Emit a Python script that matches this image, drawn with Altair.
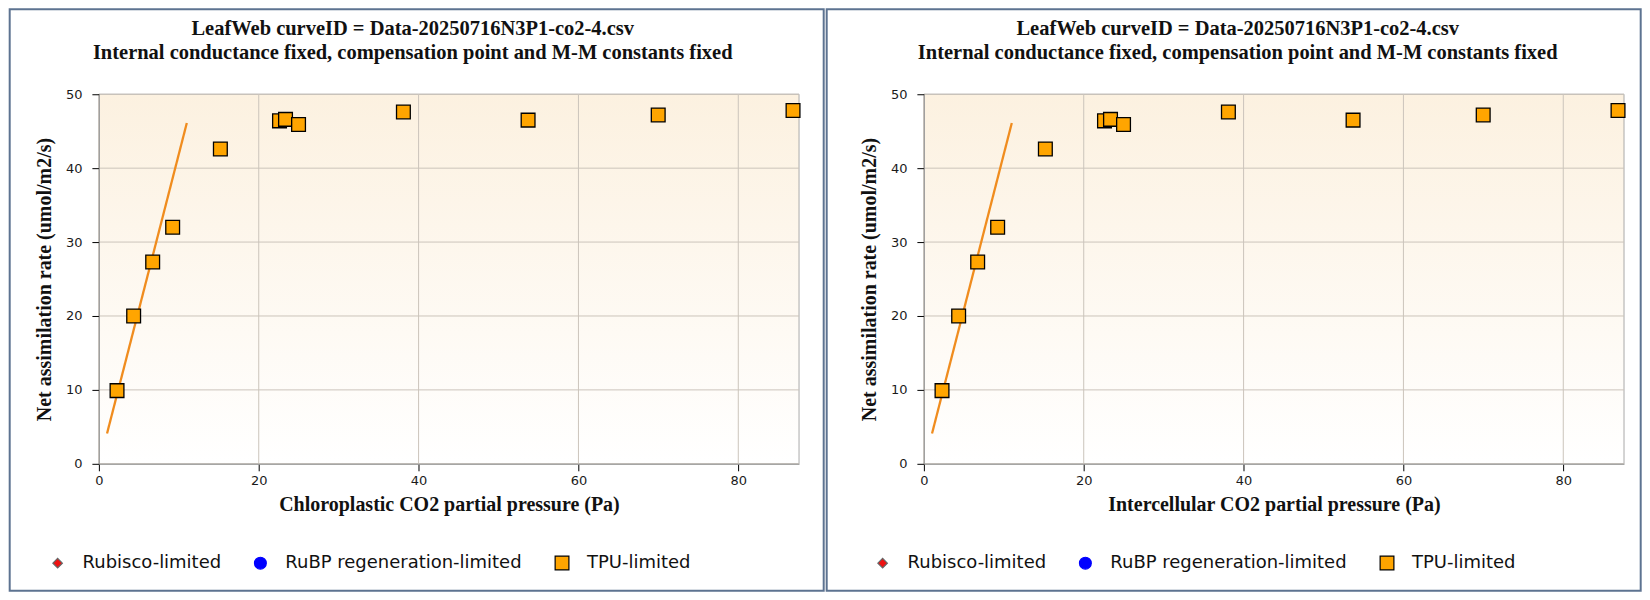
import altair as alt
import pandas as pd

# ---- data ----
ci_values = [2.27, 4.35, 6.73, 9.23, 15.2, 22.6, 23.35, 24.98, 38.1, 53.7, 69.98, 86.85]
anet_values = [9.9, 20.0, 27.3, 32.0, 42.6, 46.4, 46.6, 45.9, 47.6, 46.5, 47.2, 47.8]
point_limits = ["TPU-limited"] * len(ci_values)

fit_ci = [1.02, 11.0]
fit_anet = [4.1, 46.1]

legend_labels = ["Rubisco-limited", "RuBP regeneration-limited", "TPU-limited"]
legend_fills = ["#ee1111", "#0000ff", "#ffa500"]
legend_strokes = ["#666666", "#0000ff", "#000000"]
legend_shapes = ["diamond", "circle", "square"]
legend_sizes = [90, 190, 170]

x_tick_values = [0, 20, 40, 60, 80]
y_tick_values = [0, 10, 20, 30, 40, 50]

x_axis_titles = ["Chloroplastic CO2 partial pressure (Pa)", "Intercellular CO2 partial pressure (Pa)"]
y_axis_title = "Net assimilation rate (umol/m2/s)"
chart_title = ["LeafWeb curveID = Data-20250716N3P1-co2-4.csv",
               "Internal conductance fixed, compensation point and M-M constants fixed"]

W, H = 701, 370
X_MAX = 87.6
FRAME_COLOR = "#5d7391"
SERIF = "Liberation Serif"
SANS = "DejaVu Sans"
FRAME_TOP, FRAME_BOTTOM = -86, 498


def make_panel(xtitle, outer_x1, outer_x2):
    xs = alt.Scale(domain=[0, X_MAX], nice=False, zero=False)
    ys = alt.Scale(domain=[0, 50], nice=False, zero=False)
    xaxis = alt.Axis(title=xtitle, values=x_tick_values, grid=False, labelFlush=False,
                     tickColor="black", tickSize=7, domainColor="#999999",
                     labelFont=SANS, labelFontSize=13, labelColor="#1a1a1a", labelPadding=4,
                     titleFont=SERIF, titleFontSize=20, titleFontWeight="bold", titleColor="#111111",
                     titlePadding=7, zindex=1)
    yaxis = alt.Axis(title=y_axis_title, values=y_tick_values, grid=False,
                     tickColor="black", tickSize=7, domainColor="#999999",
                     labelFont=SANS, labelFontSize=13, labelColor="#1a1a1a", labelPadding=10,
                     titleFont=SERIF, titleFontSize=20, titleFontWeight="bold", titleColor="#111111",
                     titlePadding=11, zindex=1)

    one = pd.DataFrame({"k": [0]})
    # panel border: outer filled rect in border colour, inner white rect
    border = alt.Chart(one).mark_rect(fill=FRAME_COLOR, strokeWidth=0).encode(
        x=alt.value(outer_x1), x2=alt.value(outer_x2),
        y=alt.value(FRAME_TOP), y2=alt.value(FRAME_BOTTOM))
    inner = alt.Chart(one).mark_rect(fill="#ffffff", strokeWidth=0).encode(
        x=alt.value(outer_x1 + 2), x2=alt.value(outer_x2 - 2),
        y=alt.value(FRAME_TOP + 2), y2=alt.value(FRAME_BOTTOM - 2))

    bg = alt.Chart(one).mark_rect(
        fill=alt.LinearGradient(gradient="linear",
                                stops=[alt.GradientStop(color="#fcf1e0", offset=0),
                                       alt.GradientStop(color="#ffffff", offset=1)],
                                x1=0, x2=0, y1=0, y2=1),
        stroke="#aaaaaa", strokeWidth=1,
    ).encode(x=alt.value(0), x2=alt.value(W), y=alt.value(0), y2=alt.value(H))

    vgrid = alt.Chart(pd.DataFrame({"v": x_tick_values})).mark_rule(
        color="#cbc4bb", strokeWidth=1).encode(x=alt.X("v:Q", scale=xs, axis=xaxis))
    hgrid = alt.Chart(pd.DataFrame({"v": y_tick_values})).mark_rule(
        color="#cbc4bb", strokeWidth=1).encode(y=alt.Y("v:Q", scale=ys, axis=yaxis))

    fit = alt.Chart(pd.DataFrame({"x": fit_ci, "y": fit_anet})).mark_line(
        color="#f08c1e", strokeWidth=2.3).encode(
        x=alt.X("x:Q", scale=xs, axis=xaxis), y=alt.Y("y:Q", scale=ys, axis=yaxis))

    leg = alt.Legend(title=None, orient="none", legendX=-50.3, legendY=460,
                     direction="horizontal", labelFont=SANS, labelFontSize=18,
                     labelColor="#111111", labelOffset=16, columnPadding=30, labelLimit=0,
                     symbolStrokeWidth=1.2, padding=0)
    pts = pd.DataFrame({"x": ci_values, "y": anet_values, "lim": point_limits})
    points = alt.Chart(pts).mark_point(filled=True, opacity=1, strokeWidth=1.3).encode(
        x=alt.X("x:Q", scale=xs, axis=xaxis),
        y=alt.Y("y:Q", scale=ys, axis=yaxis),
        color=alt.Color("lim:N", scale=alt.Scale(domain=legend_labels, range=legend_fills),
                        sort=legend_labels, legend=leg),
        shape=alt.Shape("lim:N", scale=alt.Scale(domain=legend_labels, range=legend_shapes),
                        sort=legend_labels, legend=leg),
        stroke=alt.Stroke("lim:N", scale=alt.Scale(domain=legend_labels, range=legend_strokes),
                          sort=legend_labels, legend=leg),
        size=alt.Size("lim:N", scale=alt.Scale(domain=legend_labels, range=legend_sizes),
                      sort=legend_labels, legend=leg),
    )

    return alt.layer(border, inner, bg, vgrid, hgrid, fit, points).properties(
        width=W, height=H,
        title=alt.TitleParams(text=chart_title, font=SERIF, fontSize=20.5, fontWeight="bold",
                              color="#111111", anchor="middle", dx=-36.3, lineHeight=23.6,
                              baseline="bottom", offset=-75),
    )


left = make_panel(x_axis_titles[0], -90.3, 726.7)
right = make_panel(x_axis_titles[1], -98.3, 718.7)

chart = alt.hconcat(left, right, spacing=0).resolve_scale(
    color="independent", shape="independent", stroke="independent", size="independent"
).resolve_legend(
    color="independent", shape="independent", stroke="independent", size="independent"
).properties(
    padding=0, background="white"
).configure_view(strokeWidth=0)

chart.save("out.html", embed_options={"renderer": "svg", "actions": False})
